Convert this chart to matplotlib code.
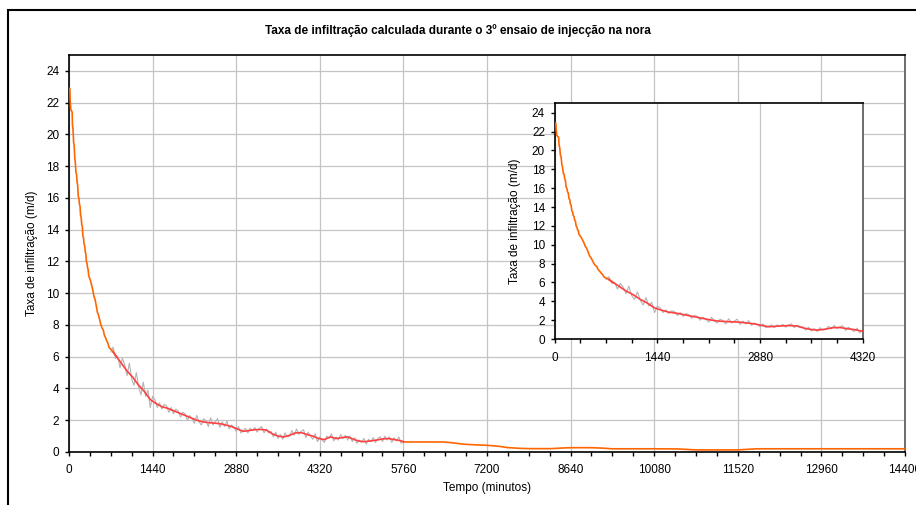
import matplotlib
matplotlib.use("Agg")
import matplotlib.pyplot as plt
from matplotlib.patches import Rectangle
from matplotlib.ticker import MultipleLocator

plt.rcParams['font.family'] = ['Liberation Sans', 'DejaVu Sans']

# orange series, first part (intensive phase start)
orange1_t = [0, 15, 20, 30, 40, 55, 60, 70, 80, 90, 100, 110, 120, 130, 140, 150, 160,
             170, 180, 190, 200, 210, 220, 230, 240, 250, 260, 270, 280, 290, 300, 310,
             320, 330, 340, 350, 370, 390, 410, 430, 450, 470, 490, 510, 530, 550, 570,
             590, 610, 630, 650, 670, 690, 710, 740, 760, 780, 800, 820]
orange1_v = [22.9, 22.9, 22.2, 21.6, 21.5, 21.4, 20.6, 20.3, 19.5, 19.3, 18.5, 18.2, 17.6,
             17.5, 17.0, 16.8, 16.1, 16.0, 15.6, 15.5, 14.9, 14.8, 14.3, 14.2, 13.6, 13.5,
             13.1, 13.0, 12.6, 12.5, 12.0, 11.9, 11.6, 11.5, 11.1, 11.0, 10.8, 10.5, 10.2,
             9.8, 9.6, 9.2, 8.8, 8.6, 8.3, 8.0, 7.8, 7.7, 7.35, 7.2, 7.0, 6.85, 6.6, 6.5,
             6.4, 6.3, 6.2, 6.1, 6.0]

# orange series, second part (after the intensive phase)
orange2_t = [5760, 5900, 6100, 6450, 6600, 6800, 7000, 7200, 7400, 7550, 7750, 7950, 8300,
             8500, 8640, 9000, 9200, 9350, 9700, 10100, 10500, 10650, 10800, 11200, 11520,
             11700, 11850, 12500, 13200, 14400]
orange2_v = [0.63, 0.63, 0.63, 0.63, 0.58, 0.49, 0.45, 0.42, 0.36, 0.28, 0.23, 0.21, 0.21,
             0.25, 0.27, 0.27, 0.24, 0.2, 0.2, 0.2, 0.19, 0.16, 0.13, 0.13, 0.13,
             0.17, 0.2, 0.2, 0.2, 0.2]

# grey series: raw measurements every 40 min from 720 min
grey_v = [6.3, 6.6, 5.9, 6.0, 5.3, 5.9, 5.5, 4.8, 5.6, 4.6, 4.2, 5.0, 4.1, 3.6, 4.4, 3.5,
          3.9, 2.8, 3.5, 3.3, 2.8, 3.1, 2.7, 3.0, 2.9, 2.5, 2.8, 2.4, 2.7, 2.6, 2.2, 2.5,
          2.4, 2.0, 2.3, 2.1, 1.8, 2.3, 1.9, 1.7, 2.1, 1.95, 1.6, 2.15, 1.7, 1.9, 2.1,
          1.55, 1.9, 1.6, 1.95, 1.45, 1.7, 1.55, 1.3, 1.6, 1.2, 1.35, 1.5, 1.2, 1.5, 1.35,
          1.55, 1.25, 1.5, 1.6, 1.2, 1.45, 1.2, 1.3, 0.95, 1.25, 0.85, 1.1, 0.8, 1.2, 0.95,
          1.0, 1.35, 1.05, 1.45, 1.1, 1.3, 1.4, 0.9, 1.25, 1.0, 0.8, 1.15, 0.65, 0.95,
          0.75, 0.6, 1.0, 0.85, 1.15, 0.7, 0.95, 0.75, 1.1, 0.85, 1.05, 0.75, 1.0, 0.65,
          0.9, 0.55, 0.75, 0.6, 0.85, 0.5, 0.8, 0.65, 0.9, 0.6, 0.85, 0.95, 0.65, 1.0,
          0.75, 0.95, 0.6, 0.9, 0.7, 0.95, 0.55, 0.7]
grey_t = [720 + 40 * i for i in range(len(grey_v))]

# red series: smoothed values
red_t = [760, 800, 900, 1000, 1100, 1200, 1300, 1400, 1500, 1600, 1700, 1800, 1900,
         2000, 2100, 2200, 2300, 2400, 2500, 2600, 2700, 2800, 2900, 3000, 3100, 3200,
         3300, 3400, 3500, 3600, 3700, 3800, 3900, 4000, 4100, 4200, 4300, 4400, 4500,
         4600, 4700, 4800, 4900, 5000, 5100, 5200, 5300, 5400, 5500, 5600, 5700, 5760]
red_v = [6.3, 6.1, 5.6, 5.1, 4.7, 4.2, 3.8, 3.3, 3.05, 2.85, 2.75, 2.6, 2.45, 2.3, 2.15,
         2.0, 1.9, 1.85, 1.82, 1.78, 1.7, 1.6, 1.45, 1.3, 1.35, 1.4, 1.42, 1.38, 1.15, 1.0,
         0.95, 1.05, 1.2, 1.22, 1.1, 1.0, 0.85, 0.78, 0.95, 0.85, 0.9, 0.95, 0.8, 0.68,
         0.65, 0.7, 0.75, 0.82, 0.85, 0.78, 0.72, 0.65]

title = "Taxa de infiltração calculada durante o 3º ensaio de injecção na nora"
ylab = "Taxa de infiltração (m/d)"
xlab = "Tempo (minutos)"

ORANGE = '#ff6600'
RED = '#ff4040'
GREY = '#b4b4b4'
GRID = '#c4c4c4'


def draw(ax, xmax, hgrid):
    ax.plot(grey_t, grey_v, color=GREY, lw=0.8, zorder=2)
    ax.plot(orange1_t, orange1_v, color=ORANGE, lw=1.2, zorder=3)
    ax.plot(orange2_t, orange2_v, color=ORANGE, lw=1.2, zorder=3)
    ax.plot(red_t, red_v, color=RED, lw=1.2, zorder=4)
    ax.set_xlim(0, xmax)
    ax.set_ylim(0, 25)
    ax.xaxis.set_major_locator(MultipleLocator(1440))
    ax.xaxis.set_minor_locator(MultipleLocator(360))
    ax.set_yticks(range(0, 25, 2))
    ax.grid(axis='x', which='major', color=GRID, lw=0.9, zorder=0)
    if hgrid:
        ax.grid(axis='y', which='major', color=GRID, lw=0.9, zorder=0)
    ax.set_axisbelow(True)
    ax.tick_params(axis='both', which='both', direction='out', length=3, width=1,
                   labelsize=8.5, pad=4)
    ax.tick_params(axis='x', which='major', pad=6)
    for s in ['left', 'bottom', 'top']:
        ax.spines[s].set_color('black')
        ax.spines[s].set_linewidth(1.2)
    ax.spines['right'].set_color('#555555')
    ax.spines['right'].set_linewidth(1.2)
    ax.set_ylabel(ylab, fontsize=8.5)


fig = plt.figure(figsize=(9.16, 5.05), dpi=100)

ax = fig.add_axes([0.0753, 0.105, 0.9127, 0.786])
draw(ax, 14400, True)
ax.set_xlabel(xlab, fontsize=8.5, labelpad=4)
ax.yaxis.set_label_coords(-0.037, 0.5)
ax.set_facecolor('white')

axi = fig.add_axes([0.6056, 0.3287, 0.3362, 0.4667])
draw(axi, 4320, False)
axi.yaxis.set_label_coords(-0.11, 0.5)
axi.set_facecolor('white')

fig.text(0.5, 0.9386, title, ha='center', va='center', fontsize=8.5, fontweight='bold')

frame = Rectangle((0.0087, -0.2), 1.2, 1.18, transform=fig.transFigure, fill=False,
                  edgecolor='black', lw=1.5, clip_on=False)
fig.patches.append(frame)

fig.savefig('out.png', dpi=100)
